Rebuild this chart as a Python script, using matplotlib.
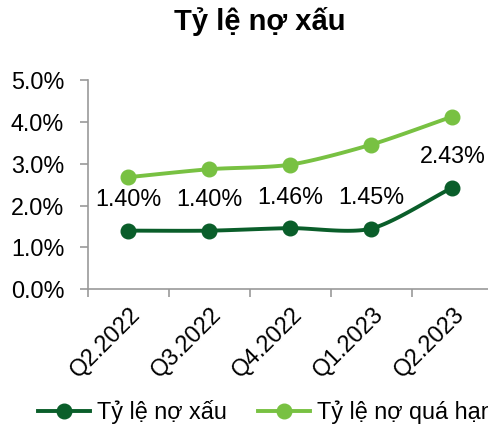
import numpy as np
import matplotlib
matplotlib.use('Agg')
import matplotlib.pyplot as plt
from matplotlib.ticker import FuncFormatter, FixedLocator

plt.rcParams['font.family'] = ['Liberation Sans', 'DejaVu Sans']

quarters = ["Q2.2022", "Q3.2022", "Q4.2022", "Q1.2023", "Q2.2023"]
npl = [1.40, 1.40, 1.46, 1.45, 2.43]        # Tỷ lệ nợ xấu
overdue = [2.68, 2.87, 2.98, 3.46, 4.13]    # Tỷ lệ nợ quá hạn

DARK = "#0a5e2a"
LIGHT = "#78c142"
FS = 16.8


def smooth(xs, ys, n=30):
    """Catmull-Rom curve through the points, like Excel's smoothed line."""
    xs = np.asarray(xs, float)
    ys = np.asarray(ys, float)
    px = np.concatenate([[2 * xs[0] - xs[1]], xs, [2 * xs[-1] - xs[-2]]])
    py = np.concatenate([[2 * ys[0] - ys[1]], ys, [2 * ys[-1] - ys[-2]]])
    out_x, out_y = [], []
    t = np.linspace(0, 1, n)
    for i in range(1, len(px) - 2):
        for p, out in ((px, out_x), (py, out_y)):
            p0, p1, p2, p3 = p[i - 1], p[i], p[i + 1], p[i + 2]
            m1 = (p2 - p0) / 2 * 0.8
            m2 = (p3 - p1) / 2 * 0.8
            h00 = 2 * t**3 - 3 * t**2 + 1
            h10 = t**3 - 2 * t**2 + t
            h01 = -2 * t**3 + 3 * t**2
            h11 = t**3 - t**2
            out.extend(h00 * p1 + h10 * m1 + h01 * p2 + h11 * m2)
    return np.array(out_x), np.array(out_y)


fig = plt.figure(figsize=(4.88, 4.29), dpi=100)
ax = fig.add_axes([0.180, 0.326, 0.830, 0.487])
fig.text(0.533, 0.949, "Tỷ lệ nợ xấu", ha='center', va='center',
         fontsize=21, fontweight='bold')

x = np.arange(len(quarters))
for vals, col, name in ((npl, DARK, "Tỷ lệ nợ xấu"),
                        (overdue, LIGHT, "Tỷ lệ nợ quá hạn")):
    sx, sy = smooth(x, vals)
    ax.plot(sx, sy, color=col, lw=2.8, solid_capstyle='round', clip_on=False)
    ax.plot(x, vals, 'o', color=col, ms=10.5, clip_on=False)
    ax.plot([], [], '-o', color=col, lw=2.8, ms=10.5, label=name)

for xi, v in zip(x, npl):
    ax.annotate(f"{v:.2f}%", (xi, v), xytext=(0, 31), textcoords='offset pixels',
                ha='center', va='center', fontsize=FS)

ax.set_xlim(-0.5, 4.5)
ax.set_ylim(0, 5)
ax.yaxis.set_major_locator(FixedLocator([0, 1, 2, 3, 4, 5]))
ax.yaxis.set_major_formatter(FuncFormatter(lambda v, p: f"{v:.1f}%"))
ax.set_xticks(np.arange(-0.5, 5, 1))
ax.set_xticklabels([])
ax.set_xticks(x, minor=True)
ax.set_xticklabels(quarters, minor=True, rotation=45, ha='right',
                   rotation_mode='anchor', fontsize=FS)
ax.tick_params(axis='x', which='minor', length=0, pad=10)
ax.tick_params(axis='x', which='major', length=6, color='#999999', width=1.2)
ax.tick_params(axis='y', length=6, color='#999999', width=1.2, labelsize=FS, pad=11)
for s in ('top', 'right'):
    ax.spines[s].set_visible(False)
for s in ('left', 'bottom'):
    ax.spines[s].set_color('#999999')
    ax.spines[s].set_linewidth(1.2)

fig.legend(loc='center', bbox_to_anchor=(0.545, 0.04), ncol=2, frameon=False,
           fontsize=FS, handlelength=2.25, handletextpad=0.3, columnspacing=1.3,
           borderaxespad=0)

fig.savefig("out.png", dpi=100)
